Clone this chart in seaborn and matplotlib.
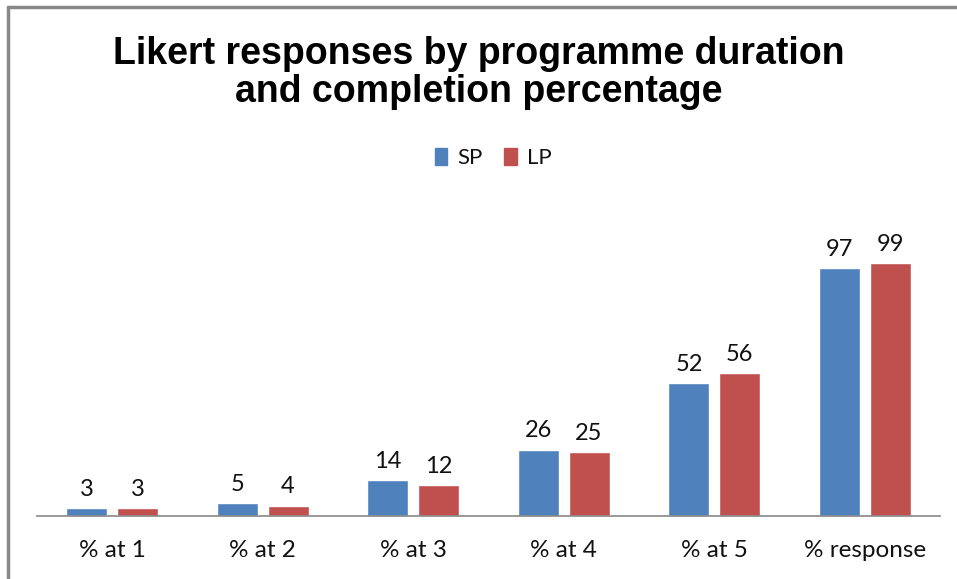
import matplotlib
matplotlib.use("Agg")
import matplotlib.pyplot as plt
import seaborn as sns
import pandas as pd
from matplotlib.lines import Line2D

# Values
categories = ["% at 1", "% at 2", "% at 3", "% at 4", "% at 5", "% response"]
sp_values = [3, 5, 14, 26, 52, 97]
lp_values = [3, 4, 12, 25, 56, 99]
series_names = ["SP", "LP"]
colors = ["#4F81BD", "#C0504D"]

data = pd.DataFrame({
    "Category": categories * 2,
    "Value": sp_values + lp_values,
    "Group": [series_names[0]] * len(categories) + [series_names[1]] * len(categories),
})

sns.set_style("white")
plt.rcParams["font.family"] = ["Lato", "DejaVu Sans"]

fig = plt.figure(figsize=(9.57, 5.79), dpi=100)
ax = fig.add_axes([37 / 957, 63 / 579, 903 / 957, 0.485])

sns.barplot(data=data, x="Category", y="Value", hue="Group", palette=colors,
            width=0.672, gap=0.19, saturation=1, ax=ax, legend=False)

for cont in ax.containers:
    ax.bar_label(cont, padding=6, fontsize=17, color="#111111")

ax.set_xlim(-0.5, len(categories) - 0.5)
ax.set_ylim(0, 110)
ax.set_xlabel("")
ax.set_ylabel("")
ax.set_yticks([])
ax.tick_params(axis="x", length=0, pad=17, labelsize=17.5, colors="#111111")
for side in ["top", "right", "left"]:
    ax.spines[side].set_visible(False)
ax.spines["bottom"].set_color("#888888")
ax.spines["bottom"].set_linewidth(1.2)

# Title
fig.text(0.5, 1 - 73 / 579, "Likert responses by programme duration\nand completion percentage",
         ha="center", va="center", fontsize=27, fontweight="bold", color="black",
         family=["Liberation Sans", "DejaVu Sans"], linespacing=1.1)

# Legend
handles = [plt.Rectangle((0, 0), 1, 1, color=c) for c in colors]
leg = fig.legend(handles, series_names, loc="center", bbox_to_anchor=(493 / 957, 1 - 158 / 579),
                 ncol=2, frameon=False, fontsize=16, handlelength=0.55, handleheight=0.8,
                 handletextpad=0.45, columnspacing=1.0)
for t in leg.get_texts():
    t.set_color("#111111")

# Chart area border (left and top edges visible)
fig.add_artist(Line2D([8 / 957, 8 / 957], [0, 1 - 7 / 579], transform=fig.transFigure,
                      color="#888888", linewidth=2.5))
fig.add_artist(Line2D([8 / 957, 1], [1 - 7 / 579, 1 - 7 / 579], transform=fig.transFigure,
                      color="#888888", linewidth=2.5))

fig.savefig("out.png", dpi=100)
